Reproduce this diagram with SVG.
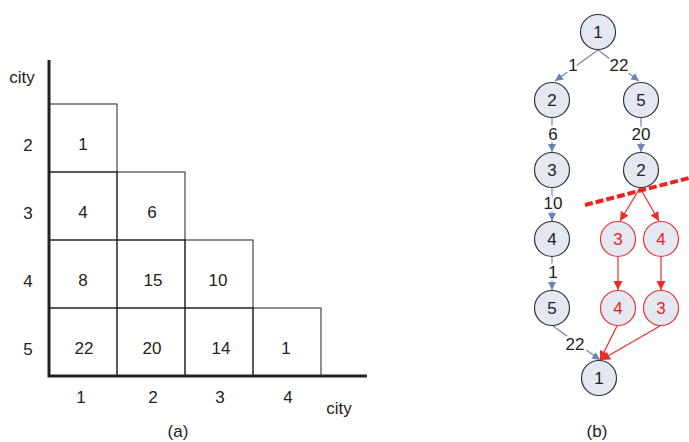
<svg xmlns="http://www.w3.org/2000/svg" width="689" height="442" viewBox="0 0 689 442">
<defs>
<style>
text{font-family:"Liberation Sans",Arial,sans-serif;font-size:17px;fill:#222;text-anchor:middle}
.cell{fill:none;stroke:#222;stroke-width:1}
.axis{stroke:#222;stroke-width:3;fill:none}
.node circle{fill:#e4e8f1;stroke:#333;stroke-width:1.2}
.rnode circle{fill:#e4e8f1;stroke:#ee3030;stroke-width:1.2}
.rnode text{fill:#ee2020}
.be{stroke:#7088b4;stroke-width:1.2;fill:none;marker-end:url(#ab)}
.re{stroke:#ee2a2a;stroke-width:1.2;fill:none;marker-end:url(#ar)}
.lbl{stroke:#fff;stroke-width:5;paint-order:stroke;stroke-linejoin:round}
</style>
<marker id="ab" viewBox="0 0 10 10" refX="10" refY="5" markerWidth="8" markerHeight="8" markerUnits="userSpaceOnUse" orient="auto"><path d="M0,0 L10,5 L0,10 z" fill="#6a84b4"/></marker>
<marker id="ar" viewBox="0 0 10 10" refX="10" refY="5" markerWidth="9" markerHeight="9" markerUnits="userSpaceOnUse" orient="auto"><path d="M0,0 L10,5 L0,10 z" fill="#ee2a2a"/></marker>
</defs>
<rect width="689" height="442" fill="#fff"/>
<g id="matrix">
<rect class="cell" x="49" y="104" width="68" height="68"/>
<rect class="cell" x="49" y="172" width="68" height="68"/>
<rect class="cell" x="117" y="172" width="68" height="68"/>
<rect class="cell" x="49" y="240" width="68" height="68"/>
<rect class="cell" x="117" y="240" width="68" height="68"/>
<rect class="cell" x="185" y="240" width="68" height="68"/>
<rect class="cell" x="49" y="308" width="68" height="68"/>
<rect class="cell" x="117" y="308" width="68" height="68"/>
<rect class="cell" x="185" y="308" width="68" height="68"/>
<rect class="cell" x="253" y="308" width="68" height="68"/>
<path class="axis" d="M49,60 V376 H367"/>
<text x="83" y="150">1</text>
<text x="83" y="218">4</text><text x="152" y="218">6</text>
<text x="83" y="286">8</text><text x="153" y="286">15</text><text x="218" y="286">10</text>
<text x="84" y="354">22</text><text x="152" y="354">20</text><text x="221" y="354">14</text><text x="286" y="354">1</text>
<text x="22" y="83">city</text>
<text x="28" y="151">2</text><text x="28" y="219">3</text><text x="28" y="287">4</text><text x="28" y="355">5</text>
<text x="81" y="403">1</text><text x="153" y="403">2</text><text x="220" y="403">3</text><text x="288" y="403">4</text>
<text x="339" y="414">city</text>
<text x="178" y="437">(a)</text>
</g>
<g id="connectors">
<path class="be" d="M598,50 L555,81"/>
<path class="be" d="M598,50 L639,81"/>
<path class="be" d="M552,118 V152"/>
<path class="be" d="M641,118 V152"/>
<path class="be" d="M552,188 V221"/>
<path class="be" d="M552,257 V290"/>
<path class="be" d="M553,326 L600,360"/>
<path class="re" d="M640,188 L620,221"/>
<path class="re" d="M640,188 L659,221"/>
<path class="re" d="M618,257 V290"/>
<path class="re" d="M661,257 V290"/>
<path class="re" d="M617,326 L600,360"/>
<path class="re" d="M660,326 L601,360"/>
<path d="M585,205 L689,178" stroke="#ee2020" stroke-width="4" stroke-dasharray="8,3" fill="none"/>
<text class="lbl" x="573" y="71">1</text>
<text class="lbl" x="619" y="71">22</text>
<text class="lbl" x="553" y="140">6</text>
<text class="lbl" x="641" y="140">20</text>
<text class="lbl" x="553" y="209">10</text>
<text class="lbl" x="553" y="278">1</text>
<text class="lbl" x="575" y="350">22</text>
</g>
<g id="n1" class="node"><circle cx="598" cy="32" r="17.5"/><text x="598" y="38">1</text></g>
<g id="n2" class="node"><circle cx="552" cy="100" r="17.5"/><text x="552" y="106">2</text></g>
<g id="n5a" class="node"><circle cx="641" cy="100" r="17.5"/><text x="641" y="106">5</text></g>
<g id="n3" class="node"><circle cx="552" cy="170" r="17.5"/><text x="552" y="176">3</text></g>
<g id="n2b" class="node"><circle cx="641" cy="170" r="17.5"/><text x="641" y="176">2</text></g>
<g id="n4" class="node"><circle cx="552" cy="239" r="17.5"/><text x="552" y="245">4</text></g>
<g id="n5" class="node"><circle cx="552" cy="308" r="17.5"/><text x="552" y="314">5</text></g>
<g id="n1b" class="node"><circle cx="599" cy="378" r="17.5"/><text x="599" y="384">1</text></g>
<g id="r3a" class="rnode"><circle cx="618" cy="239" r="17.5"/><text x="618" y="245">3</text></g>
<g id="r4a" class="rnode"><circle cx="661" cy="239" r="17.5"/><text x="661" y="245">4</text></g>
<g id="r4b" class="rnode"><circle cx="618" cy="308" r="17.5"/><text x="618" y="314">4</text></g>
<g id="r3b" class="rnode"><circle cx="661" cy="308" r="17.5"/><text x="661" y="314">3</text></g>
<text x="597" y="437">(b)</text>
</svg>
